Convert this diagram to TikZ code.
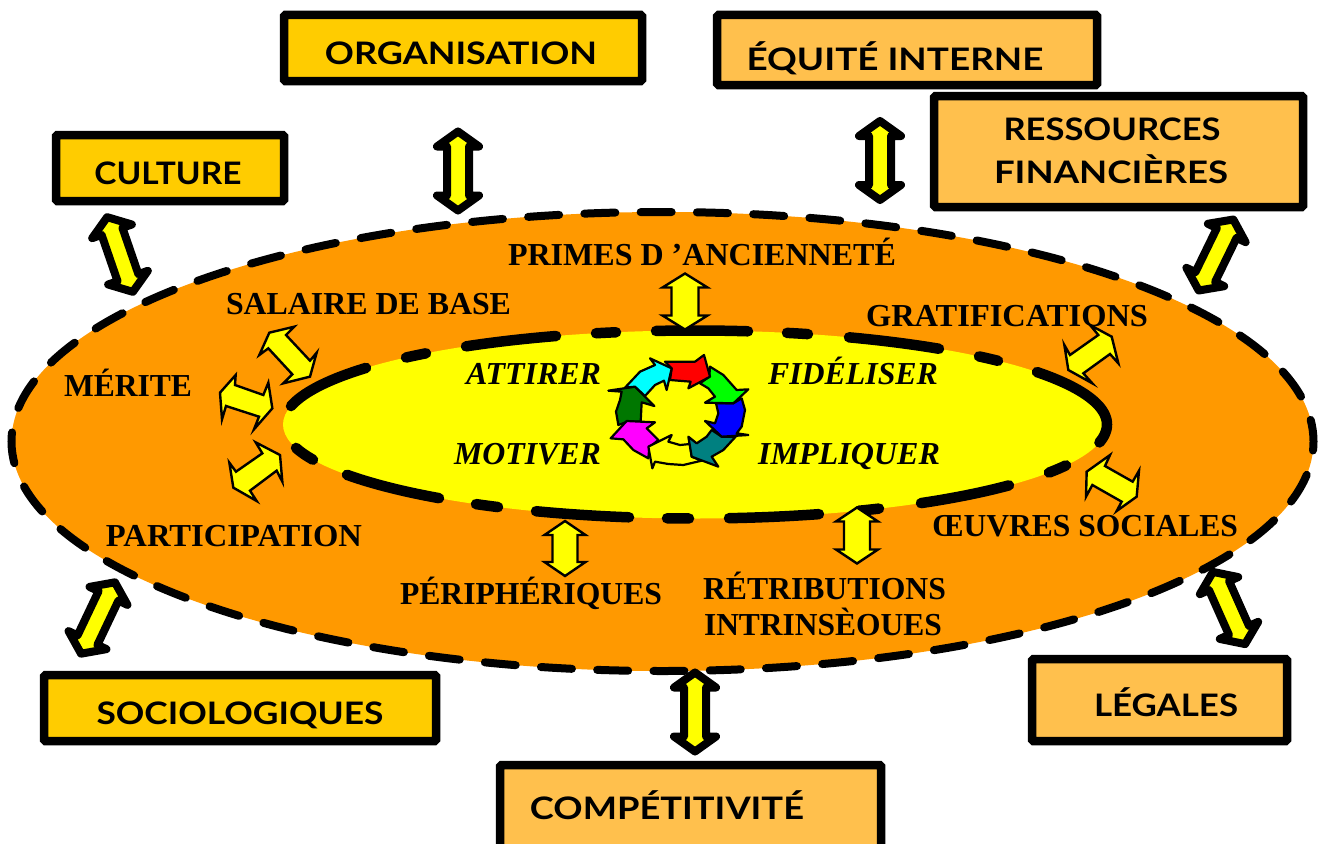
\documentclass[tikz,border=0pt]{standalone}
\usepackage{fontspec}
\usepackage{graphicx}
\setmainfont{Liberation Serif}
\newfontfamily\cfont{Lato}
\definecolor{orangeE}{HTML}{FF9900}
\definecolor{yelE}{HTML}{FFFF00}
\definecolor{boxA}{HTML}{FFCC00}
\definecolor{boxB}{HTML}{FFC04D}
\definecolor{tealR}{HTML}{008080}
\definecolor{dkgR}{HTML}{007700}
\definecolor{cyanR}{HTML}{00FFFF}
\definecolor{magR}{HTML}{FF00FF}
\definecolor{grnR}{HTML}{00FF00}
\definecolor{bluR}{HTML}{0000FF}
\definecolor{redR}{HTML}{FF0000}
\newcommand\fw[2]{\resizebox{#1pt}{\height}{#2}}
\tikzset{
  boxa/.style={draw=black,fill=boxA,line width=8.5pt,rounded corners=1.5pt,inner sep=0pt,outer sep=0pt},
  boxb/.style={boxa,fill=boxB},
  ctext/.style={anchor=base,inner sep=0pt,font=\cfont\bfseries\fontsize{31}{36}\selectfont},
  stext/.style={anchor=base,inner sep=0pt,font=\bfseries\fontsize{32}{36}\selectfont},
  itext/.style={anchor=base,inner sep=0pt,font=\bfseries\itshape\fontsize{32}{36}\selectfont},
  bigarrow/.style={draw=black,fill=yelE,line width=8pt,line join=round},
  thinarrow/.style={draw=black,fill=yelE,line width=2.4pt,line join=miter},
  thinpoly/.style={draw=black,fill=yelE,line width=2.4pt,line join=miter},
  idash/.style={draw=black,line width=10.5pt,line cap=round},
}
% double block arrow: name, centre x, centre y, angle, half length, half head width, half shaft width, head length, style
\newcommand\dbl[9]{%
  \coordinate (#1) at (#2,#3);
  \begin{scope}[shift={(#1)},rotate=#4]
  \pgfmathsetmacro\myk{#5-#8}%
  \draw[#9] (-#5,0)--(-\myk,-#6)--(-\myk,-#7)--(\myk,-#7)--(\myk,-#6)--(#5,0)--(\myk,#6)--(\myk,#7)--(-\myk,#7)--(-\myk,#6)--cycle;
  \end{scope}}
\newcommand\itop[2]{%
  \pgfmathsetmacro\myta{acos((#1+4-695)/412)}%
  \pgfmathsetmacro\mytb{acos((#2-4-695)/412)}%
  \draw[idash] plot[domain=\myta:\mytb,samples=40] ({695+412*cos(\x)},{424.5-94*sin(\x)});}
\newcommand\ibot[2]{%
  \pgfmathsetmacro\myta{acos((#1+4-695)/412)}%
  \pgfmathsetmacro\mytb{acos((#2-4-695)/412)}%
  \draw[idash] plot[domain=\myta:\mytb,samples=40] ({695+412*cos(\x)},{424.5+94*sin(\x)});}
\begin{document}
\begin{tikzpicture}[x=1pt,y=-1pt]
\useasboundingbox (0,0) rectangle (1321,843);
\clip (0,0) rectangle (1321,843);
\fill[white] (0,0) rectangle (1321,843);

% outer ellipse
\fill[orangeE] (662.5,441.5) ellipse [x radius=651,y radius=229.5];
\draw[black,line width=8pt,line cap=round,dash pattern=on 31pt off 25.3pt,dash phase=22pt]
  (662.5,441.5) ellipse [x radius=651,y radius=229.5];

% inner ellipse
\fill[yelE] (695,424.5) ellipse [x radius=412,y radius=94];
\itop{287}{370}\itop{402}{430}\itop{462}{560}\itop{592}{620}\itop{652}{752}
\itop{783}{812}\itop{845}{943}\itop{975}{1002}
\pgfmathsetmacro\myta{acos((1037-695)/412)}
\draw[idash] plot[domain=\myta:-11,samples=50] ({695+412*cos(\x)},{424.5-94*sin(\x)});
\ibot{1045}{1070}\ibot{917}{1013}\ibot{855}{883}\ibot{725}{823}\ibot{663}{693}
\ibot{532}{633}\ibot{472}{502}\ibot{343}{443}\ibot{292}{317}

% boxes
\node[boxa,minimum width=358pt,minimum height=66pt] (org) at (463,48) {};
\node[boxb,minimum width=380pt,minimum height=70pt] (equ) at (907,50) {};
\node[boxb,minimum width=369pt,minimum height=111pt] (res) at (1118.5,151.5) {};
\node[boxa,minimum width=228pt,minimum height=66pt] (cul) at (170,168) {};
\node[boxa,minimum width=392pt,minimum height=66pt] (soc) at (240,708) {};
\node[boxb,minimum width=255pt,minimum height=82pt] (leg) at (1159.5,700) {};
\node[boxb,minimum width=381pt,minimum height=122pt] (com) at (690.5,826) {};

% box labels
\node[ctext] (torg) at (461,64) {\fw{272}{ORGANISATION}};
\node[ctext] (tequ) at (895,70) {\fw{297}{ÉQUITÉ INTERNE}};
\node[ctext] (tres) at (1112,140) {\fw{217}{RESSOURCES}};
\node[ctext] (tfin) at (1111,183) {\fw{234}{FINANCIÈRES}};
\node[ctext] (tcul) at (168,184) {\fw{147}{CULTURE}};
\node[ctext] (tsoc) at (240,724) {\fw{287}{SOCIOLOGIQUES}};
\node[ctext] (tleg) at (1166,716) {\fw{144}{LÉGALES}};
\node[ctext] (tcom) at (667,819) {\fw{274}{COMPÉTITIVITÉ}};

% big arrows
\dbl{aorg}{458}{171}{90}{39.5}{21}{11}{15}{bigarrow}
\dbl{aequ}{880}{160.5}{90}{39.5}{21}{11}{15}{bigarrow}
\dbl{acul}{120}{254.5}{109}{39.5}{21}{11}{15}{bigarrow}
\dbl{ares}{1216}{255}{64}{39.5}{21}{11}{15}{bigarrow}
\dbl{asoc}{98}{618}{64.6}{39.5}{21}{11}{15}{bigarrow}
\dbl{aleg}{1229}{608}{114}{39.5}{21}{11}{15}{bigarrow}
\dbl{acom}{695}{712}{90}{39.5}{21}{11}{15}{bigarrow}

% thin arrows
\dbl{apri}{685}{301.5}{90}{28}{22.5}{13.5}{14}{thinarrow}
\dbl{aper}{565}{548.5}{90}{27.5}{20.5}{12.5}{14}{thinarrow}
\dbl{aret}{857}{535.5}{90}{28}{21}{13}{14}{thinarrow}
\begin{scope}[shift={(200,320)},x=0.33333pt,y=-0.33333pt]
\draw[thinpoly] (208,38)--(283,20)--(258,45)--(330,122)--(350,98)--(330,170)--(250,190)--(277,163)--(205,85)--(178,105)--cycle;
\draw[thinpoly] (60,218)--(107,165)--(105,195)--(190,225)--(205,188)--(217,265)--(162,328)--(177,290)--(78,258)--(66,298)--cycle;
\draw[thinpoly] (240,405)--(247,485)--(230,452)--(150,512)--(170,543)--(100,503)--(88,428)--(108,455)--(187,400)--(167,367)--cycle;
\end{scope}
\begin{scope}[shift={(1030,200)},x=0.33333pt,y=-0.33333pt]
\draw[thinpoly] (103,435)--(120,465)--(205,405)--(180,375)--(245,410)--(265,490)--(240,462)--(160,520)--(187,550)--(115,510)--cycle;
\draw[thinpoly] (170,815)--(240,765)--(225,798)--(308,845)--(327,812)--(320,890)--(260,933)--(275,905)--(187,855)--(168,890)--cycle;
\end{scope}

% ring of arrows
\begin{scope}[shift={(590,340)},x=0.33333pt,y=-0.33333pt,every path/.append style={draw=black,line width=2.2pt,line join=round}]
\filldraw[fill=dkgR] (85,255)--(78,215)--(90,180)--(95,155)--(55,152)--(135,140)--(193,198)--(155,187)--(152,245)--(112,245)--cycle;
\filldraw[fill=magR] (175,355)--(130,330)--(100,298)--(62,295)--(110,243)--(195,247)--(170,265)--(205,300)--(178,322)--cycle;
\filldraw[fill=yelE] (335,362)--(280,375)--(235,372)--(195,365)--(187,385)--(175,320)--(245,285)--(235,305)--(270,315)--(300,312)--(305,350)--cycle;
\filldraw[fill=tealR] (437,290)--(400,330)--(365,350)--(385,380)--(305,350)--(295,290)--(320,310)--(350,290)--(365,270)--(395,290)--cycle;
\filldraw[fill=bluR] (455,175)--(465,210)--(455,260)--(440,280)--(475,285)--(395,290)--(345,243)--(375,250)--(385,220)--(378,190)--(430,190)--cycle;
\filldraw[fill=grnR] (360,80)--(400,105)--(440,150)--(475,148)--(430,190)--(345,188)--(375,170)--(355,145)--(330,130)--(358,110)--cycle;
\filldraw[fill=redR] (225,65)--(315,65)--(342,45)--(360,110)--(295,145)--(302,125)--(240,120)--(245,85)--cycle;
\filldraw[fill=cyanR] (105,143)--(150,95)--(195,75)--(180,55)--(245,85)--(230,150)--(222,122)--(195,135)--(165,168)--(135,140)--cycle;
\end{scope}

% serif labels
\node[stext] (tpri) at (702,265) {\fw{388}{PRIMES D ’ANCIENNETÉ}};
\node[stext] (tsal) at (368.5,314) {\fw{285}{SALAIRE DE BASE}};
\node[stext] (tmer) at (128,396) {\fw{128}{MÉRITE}};
\node[stext] (tpar) at (234,546) {\fw{256}{PARTICIPATION}};
\node[stext] (tgra) at (1007,326) {\fw{282}{GRATIFICATIONS}};
\node[stext] (toeu) at (1085,536) {\fw{306}{ŒUVRES SOCIALES}};
\node[stext] (tper) at (531,604) {\fw{262}{PÉRIPHÉRIQUES}};
\node[stext] (tret) at (824.5,599) {\fw{243}{RÉTRIBUTIONS}};
\node[stext] (tint) at (823,635) {\fw{238}{INTRINSÈOUES}};
\node[itext] (iatt) at (533.5,384) {\fw{135}{ATTIRER}};
\node[itext] (ifid) at (853,384) {\fw{170}{FIDÉLISER}};
\node[itext] (imot) at (527.5,464) {\fw{147}{MOTIVER}};
\node[itext] (iimp) at (849,464) {\fw{182}{IMPLIQUER}};
\end{tikzpicture}
\end{document}
